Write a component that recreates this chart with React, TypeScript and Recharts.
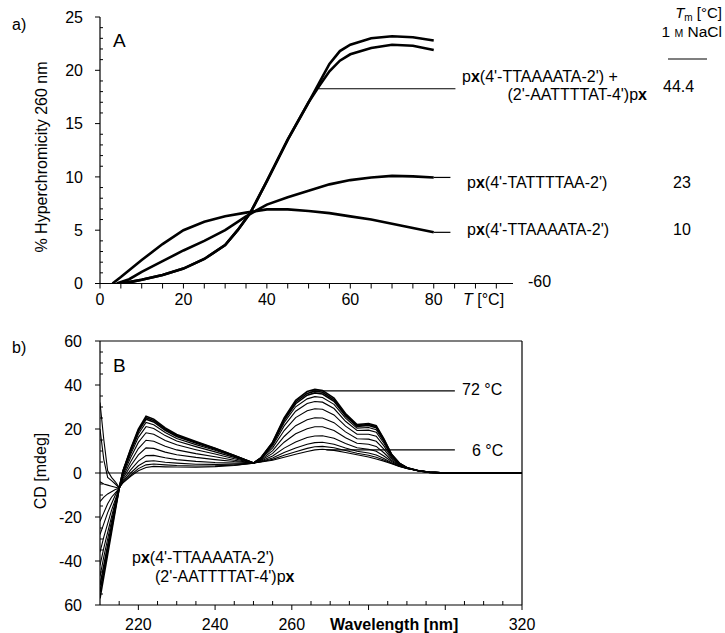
import React from "react";
import { LineChart, Line, XAxis, YAxis, ReferenceLine } from "recharts";

const FONT = '"Liberation Sans", Arial, Helvetica, sans-serif';

// ---- panel A: melting curves (% hyperchromicity at 260 nm vs T) ----
const tm10T = [3, 5, 10, 15, 20, 25, 30, 35, 40, 45, 50, 55, 60, 65, 70, 75, 80];
const tm10V = [0, 0.6, 2.2, 3.7, 5.0, 5.8, 6.3, 6.65, 6.95, 6.95, 6.8, 6.6, 6.3, 6.0, 5.6, 5.2, 4.8];
const tm23T = [4, 7, 10, 15, 20, 25, 30, 35, 40, 45, 50, 55, 60, 65, 70, 75, 80];
const tm23V = [0, 0.4, 1.1, 2.1, 3.1, 4.0, 5.0, 6.3, 7.4, 8.1, 8.7, 9.3, 9.7, 9.95, 10.1, 10.05, 9.95];
const duplexT = [5, 8, 10, 15, 20, 25, 30, 33, 36, 40, 45, 50, 52.5, 55, 57.5, 60, 65, 70, 75, 80];
const duplexHeat = [0, 0.2, 0.35, 0.8, 1.4, 2.3, 3.6, 5.0, 6.6, 9.6, 13.5, 17.0, 18.8, 20.6, 21.8, 22.4, 23.0, 23.2, 23.1, 22.8];
const duplexCool = [0, 0.2, 0.35, 0.8, 1.4, 2.3, 3.6, 5.0, 6.6, 9.6, 13.5, 17.0, 18.5, 19.9, 20.9, 21.5, 22.1, 22.4, 22.3, 21.9];

const aXTicks = [0, 5, 10, 15, 20, 25, 30, 35, 40, 45, 50, 55, 60, 65, 70, 75, 80, 85, 90, 95];
const aYTicks = [0, 1, 2, 3, 4, 5, 6, 7, 8, 9, 10, 11, 12, 13, 14, 15, 16, 17, 18, 19, 20, 21, 22, 23, 24, 25];

// ---- panel B: CD spectra, 6 °C (first) to 72 °C (last) ----
const wavelengths = [210, 211, 212, 213, 214, 215, 216, 218, 220, 222, 224, 227, 230, 235, 240, 245, 250, 252, 255, 258, 261, 264, 266, 268, 271, 274, 277, 280, 282, 284, 286, 288, 290, 293, 296, 300, 320];
const cd06 = [32, 15, 1, -2, -4, -6.5, -4.5, -1.5, 1, 2.5, 3, 2.8, 2.7, 2.6, 2.9, 3.4, 4.5, 5, 5.8, 7.2, 8.5, 9.8, 10.5, 10.8, 10.3, 9.3, 8.3, 7.3, 6.4, 5.4, 4.2, 3, 2.1, 1, 0.4, 0.1, 0];
const cd12 = [20, 6, -2, -3.5, -5, -6.8, -4.2, -0.9, 2.0, 3.7, 4.1, 3.7, 3.4, 3.2, 3.3, 3.6, 4.5, 5.1, 6.2, 8.1, 9.7, 11.2, 11.9, 12.1, 11.5, 10.2, 9.0, 8.1, 7.2, 5.9, 4.4, 3.1, 2.1, 1, 0.4, 0.1, 0];
const cd18 = [-4, -5, -5.5, -6, -6.5, -7, -3.8, 0, 3.3, 5.3, 5.6, 4.9, 4.5, 4.0, 3.9, 4.0, 4.5, 5.2, 6.8, 9.3, 11.4, 13.1, 13.8, 14.0, 13.1, 11.4, 9.9, 9.1, 8.2, 6.6, 4.7, 3.2, 2.1, 1, 0.4, 0.1, 0];
const cd24 = [-13, -11, -9.5, -8.5, -7.5, -7, -3.2, 1.4, 5.4, 7.9, 8.0, 6.9, 6.1, 5.3, 4.8, 4.5, 4.5, 5.5, 7.7, 11.3, 14.1, 16.1, 16.8, 16.9, 15.8, 13.4, 11.5, 10.8, 9.9, 7.7, 5.2, 3.4, 2.2, 1, 0.4, 0.1, 0];
const cd30 = [-22, -18, -14, -11, -9, -7, -2.4, 3.3, 8.2, 11.4, 11.2, 9.5, 8.3, 7.1, 6.1, 5.2, 4.5, 5.8, 8.9, 14.0, 17.8, 20.1, 21.0, 21.0, 19.3, 16.0, 13.5, 13.1, 12.1, 9.2, 5.8, 3.6, 2.2, 1, 0.4, 0.1, 0];
const cd36 = [-28, -23, -18, -14, -10, -7, -1.6, 5.1, 11.1, 14.9, 14.4, 12.2, 10.5, 8.8, 7.4, 5.8, 4.5, 6.1, 10.2, 16.6, 21.5, 24.2, 25.1, 25.0, 22.9, 18.7, 15.6, 15.4, 14.4, 10.8, 6.5, 3.8, 2.3, 1, 0.3, 0.1, 0];
const cd42 = [-36, -29, -23, -17, -12, -7, -0.8, 7.0, 13.9, 18.3, 17.6, 14.8, 12.8, 10.6, 8.6, 6.5, 4.5, 6.4, 11.4, 19.3, 25.2, 28.3, 29.2, 29.0, 26.4, 21.3, 17.6, 17.6, 16.7, 12.3, 7.1, 4.0, 2.3, 1, 0.3, 0.1, 0];
const cd48 = [-42, -34, -27, -20, -13, -7, -0.1, 8.5, 16.2, 21.1, 20.2, 17.0, 14.5, 12.0, 9.6, 7.1, 4.5, 6.6, 12.4, 21.4, 28.1, 31.6, 32.5, 32.2, 29.3, 23.5, 19.3, 19.5, 18.5, 13.5, 7.6, 4.2, 2.3, 1, 0.3, 0, 0];
const cd54 = [-47, -38, -30, -22, -14, -7, 0.3, 9.5, 17.7, 23.0, 21.9, 18.4, 15.7, 12.9, 10.3, 7.5, 4.5, 6.8, 13.0, 22.9, 30.1, 33.7, 34.7, 34.3, 31.2, 24.9, 20.4, 20.7, 19.7, 14.3, 8.0, 4.3, 2.4, 1, 0.3, 0, 0];
const cd60 = [-51, -42, -33, -24, -15.5, -7, 0.7, 10.3, 18.9, 24.4, 23.2, 19.4, 16.6, 13.6, 10.8, 7.7, 4.5, 6.9, 13.5, 23.9, 31.5, 35.4, 36.4, 35.9, 32.6, 25.9, 21.2, 21.6, 20.6, 14.9, 8.2, 4.4, 2.4, 1, 0.3, 0, 0];
const cd66 = [-54, -44.5, -35, -25.5, -16, -7, 0.8, 10.6, 19.4, 25.1, 23.9, 20.0, 17.1, 14.0, 11.1, 7.9, 4.5, 6.9, 13.8, 24.5, 32.3, 36.2, 37.2, 36.7, 33.3, 26.5, 21.6, 22.0, 21.1, 15.2, 8.4, 4.5, 2.4, 1, 0.3, 0, 0];
const cd72 = [-57, -47, -37, -27, -17, -7, 1, 11, 20, 25.8, 24.5, 20.5, 17.5, 14.3, 11.3, 8, 4.5, 7, 14, 25, 33, 37, 38, 37.5, 34, 27, 22, 22.5, 21.5, 15.5, 8.5, 4.5, 2.4, 1, 0.3, 0, 0];
const spectra = [cd06, cd12, cd18, cd24, cd30, cd36, cd42, cd48, cd54, cd60, cd66, cd72];

const bXTicks = [215, 220, 225, 230, 235, 240, 245, 250, 255, 260, 265, 270, 275, 280, 285, 290, 295, 300, 305, 310, 315, 320];
const bXLabels = [220, 240, 260, 320];
const bYTicks = [-60, -55, -50, -45, -40, -35, -30, -25, -20, -15, -10, -5, 0, 5, 10, 15, 20, 25, 30, 35, 40, 45, 50, 55, 60];

const toPoints = (xs: number[], ys: number[], key: string) =>
  xs.map((x, i) => ({ [key]: x, v: ys[i] }));

const cdData = wavelengths.map((w, i) => {
  const row: Record<string, number> = { w };
  spectra.forEach((s, k) => (row["s" + k] = s[i]));
  return row;
});

const txt = { fontFamily: FONT, fontSize: 16, fill: "#000" } as const;

// ticks drawn by hand: tickSize/tickMargin are 0 so x,y is on the axis line
const aXTick = (p: any) => {
  const { x, y, payload } = p;
  const v = payload.value;
  const major = v % 20 === 0;
  return (
    <g>
      <line x1={x} x2={x} y1={y} y2={y + 5} stroke="#000" />
      {major && (
        <text x={x} y={y + 21.5} textAnchor="middle" {...txt}>
          {v}
        </text>
      )}
    </g>
  );
};

const aYTick = (p: any) => {
  const { x, y, payload } = p;
  const v = payload.value;
  const major = v % 5 === 0;
  return (
    <g>
      {major ? (
        <line x1={x - 5} x2={x} y1={y} y2={y} stroke="#000" />
      ) : (
        <line x1={x} x2={x + 3} y1={y} y2={y} stroke="#000" />
      )}
      {major && (
        <text x={x - 17} y={y + 5.7} textAnchor="end" {...txt}>
          {v}
        </text>
      )}
    </g>
  );
};

const bXTick = (p: any) => {
  const { x, y, payload } = p;
  const v = payload.value;
  const major = v % 20 === 0;
  return (
    <g>
      {major ? (
        <line x1={x} x2={x} y1={y} y2={y + 5} stroke="#000" />
      ) : (
        <line x1={x} x2={x} y1={y} y2={y - 4} stroke="#000" />
      )}
      {bXLabels.includes(v) && (
        <text x={x} y={y + 25} textAnchor="middle" {...txt}>
          {v}
        </text>
      )}
    </g>
  );
};

const bYTick = (p: any) => {
  const { x, y, payload } = p;
  const v = payload.value;
  const major = v % 20 === 0;
  return (
    <g>
      {major ? (
        <line x1={x - 5} x2={x} y1={y} y2={y} stroke="#000" />
      ) : (
        <line x1={x} x2={x + 3} y1={y} y2={y} stroke="#000" />
      )}
      {major && (
        <text x={x - 18} y={y + 5.7} textAnchor="end" {...txt}>
          {v === -60 ? "60" : v}
        </text>
      )}
    </g>
  );
};

const axisStyle = { stroke: "#000", strokeWidth: 1.2 };
const leader = { stroke: "#000", strokeWidth: 1.2 };

export default function App() {
  return (
    <div style={{ position: "absolute", left: 0, top: 0, width: 725, height: 633, background: "#fff" }}>
      <div style={{ position: "absolute", left: 0, top: 0 }}>
        <LineChart width={725} height={320} margin={{ top: 17, right: 212, bottom: 6.5, left: 40 }}>
          <XAxis
            type="number"
            dataKey="t"
            domain={[0, 99]}
            ticks={aXTicks}
            interval={0}
            tickSize={0}
            tickMargin={0}
            height={30}
            tick={aXTick}
            tickLine={false}
            axisLine={axisStyle}
            allowDataOverflow
          />
          <YAxis
            type="number"
            domain={[0, 25]}
            ticks={aYTicks}
            interval={0}
            tickSize={0}
            tickMargin={0}
            width={60}
            tick={aYTick}
            tickLine={false}
            axisLine={axisStyle}
            allowDataOverflow
          />
          <ReferenceLine segment={[{ x: 52.4, y: 18.27 }, { x: 85.2, y: 18.27 }]} {...leader} />
          <ReferenceLine segment={[{ x: 80, y: 9.95 }, { x: 84, y: 9.95 }]} {...leader} />
          <ReferenceLine segment={[{ x: 80, y: 4.8 }, { x: 84, y: 4.8 }]} {...leader} />
          <Line data={toPoints(tm10T, tm10V, "t")} dataKey="v" stroke="#000" strokeWidth={2.6} dot={false} isAnimationActive={false} />
          <Line data={toPoints(tm23T, tm23V, "t")} dataKey="v" stroke="#000" strokeWidth={2.6} dot={false} isAnimationActive={false} />
          <Line data={toPoints(duplexT, duplexHeat, "t")} dataKey="v" stroke="#000" strokeWidth={2.6} dot={false} isAnimationActive={false} />
          <Line data={toPoints(duplexT, duplexCool, "t")} dataKey="v" stroke="#000" strokeWidth={2.6} dot={false} isAnimationActive={false} />
        </LineChart>
      </div>

      <div style={{ position: "absolute", left: 0, top: 320 }}>
        <LineChart width={725} height={313} data={cdData} margin={{ top: 21, right: 203, bottom: 3, left: 40 }}>
          <XAxis
            type="number"
            dataKey="w"
            domain={[210, 320]}
            ticks={bXTicks}
            interval={0}
            tickSize={0}
            tickMargin={0}
            height={25}
            tick={bXTick}
            tickLine={false}
            axisLine={axisStyle}
            allowDataOverflow
          />
          <YAxis
            type="number"
            domain={[-60, 60]}
            ticks={bYTicks}
            interval={0}
            tickSize={0}
            tickMargin={0}
            width={60}
            tick={bYTick}
            tickLine={false}
            axisLine={axisStyle}
            allowDataOverflow
          />
          <ReferenceLine y={60} stroke="#000" strokeWidth={1.2} />
          <ReferenceLine x={320} stroke="#000" strokeWidth={1.2} />
          <ReferenceLine y={0} stroke="#000" strokeWidth={1.2} />
          <ReferenceLine segment={[{ x: 264.7, y: 37.3 }, { x: 302.5, y: 37.3 }]} {...leader} />
          <ReferenceLine segment={[{ x: 269, y: 10.5 }, { x: 302.5, y: 10.5 }]} {...leader} />
          {spectra.map((_, k) => (
            <Line
              key={k}
              dataKey={"s" + k}
              stroke="#000"
              strokeWidth={k >= 9 ? 1.6 : 1.1}
              dot={false}
              isAnimationActive={false}
            />
          ))}
        </LineChart>
      </div>

      <svg width={725} height={633} style={{ position: "absolute", left: 0, top: 0, pointerEvents: "none" }}>
        <g {...txt}>
          {/* panel a */}
          <text x={12} y={30}>a)</text>
          <text x={113} y={47} fontSize={19}>A</text>
          <text transform="translate(47,157) rotate(-90)" textAnchor="middle">% Hyperchromicity 260 nm</text>
          <text x={463} y={305}>
            <tspan fontStyle="italic">T</tspan> [°C]
          </text>
          <text x={528} y={287}>-60</text>
          <text x={722} y={18} textAnchor="end" fontSize={15}>
            <tspan fontStyle="italic">T</tspan>
            <tspan fontSize={10} dy={3}>m</tspan>
            <tspan dy={-3}> [°C]</tspan>
          </text>
          <text x={722} y={37} textAnchor="end" fontSize={15.5}>
            1 <tspan fontSize={10.5}>M</tspan> NaCl
          </text>
          <line x1={668} x2={707} y1={59} y2={59} stroke="#000" strokeWidth={1.2} />
          <text x={462} y={82}>
            p<tspan fontWeight="bold">x</tspan>(4'-TTAAAATA-2') +
          </text>
          <text x={647} y={100} textAnchor="end">
            (2'-AATTTTAT-4')p<tspan fontWeight="bold">x</tspan>
          </text>
          <text x={663} y={92}>44.4</text>
          <text x={467} y={188}>
            p<tspan fontWeight="bold">x</tspan>(4'-TATTTTAA-2')
          </text>
          <text x={673} y={188}>23</text>
          <text x={467} y={235}>
            p<tspan fontWeight="bold">x</tspan>(4'-TTAAAATA-2')
          </text>
          <text x={673} y={235}>10</text>

          {/* panel b */}
          <text x={12} y={353}>b)</text>
          <text x={113} y={372} fontSize={19}>B</text>
          <text transform="translate(46,471) rotate(-90)" textAnchor="middle">CD [mdeg]</text>
          <text x={462} y={395}>72 °C</text>
          <text x={472} y={456}>6 °C</text>
          <text x={132} y={563}>
            p<tspan fontWeight="bold">x</tspan>(4'-TTAAAATA-2')
          </text>
          <text x={155} y={582}>
            (2'-AATTTTAT-4')p<tspan fontWeight="bold">x</tspan>
          </text>
          <text x={330} y={630} fontWeight="bold">Wavelength [nm]</text>
        </g>
      </svg>
    </div>
  );
}
